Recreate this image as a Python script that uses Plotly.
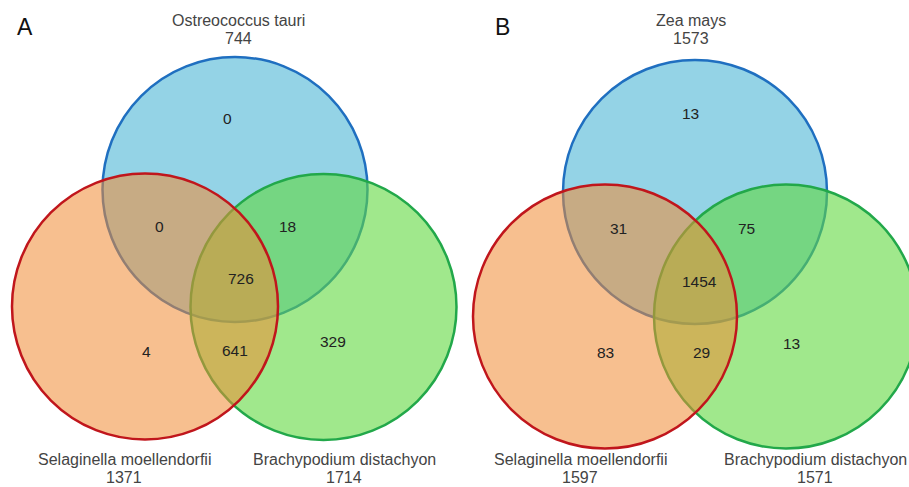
import plotly.graph_objects as go

# ---------------- data ----------------
panel_letters = ["A", "B"]

sets_A = ["Ostreococcus tauri", "Selaginella moellendorfii", "Brachypodium distachyon"]
totals_A = [744, 1371, 1714]
# regions: top only, left only, right only, top&left, top&right, left&right, all three
regions_A = [0, 4, 329, 0, 18, 641, 726]

sets_B = ["Zea mays", "Selaginella moellendorfii", "Brachypodium distachyon"]
totals_B = [1573, 1597, 1571]
regions_B = [13, 83, 13, 31, 75, 29, 1454]

# ---------------- layout geometry (pixels) ----------------
W, H = 909, 487
FONT = "Liberation Sans, Arial, sans-serif"

panels = [
    dict(letter=(25, 27),
         circles=[(235, 189.5, 132.5), (145, 306.5, 133), (323.5, 307, 133)],
         top_label=(238, 20, 38), left_label=(124, 459, 477), right_label=(344, 459, 477),
         region_pos=[(227, 118), (146, 351), (333, 341), (159, 226), (287, 226), (235, 350), (241, 278)]),
    dict(letter=(502, 27),
         circles=[(695, 192, 132), (605, 316.5, 132), (786, 316.5, 132)],
         top_label=(691, 20, 38), left_label=(580, 459, 477), right_label=(815, 459, 477),
         region_pos=[(690, 113), (605, 352), (791, 343), (618, 228), (746, 228), (701, 352), (699, 281)]),
]

# style per circle: top (blue), left (red), right (green)
fills = ["rgba(77,182,213,0.6)", "rgba(240,138,51,0.55)", "rgba(97,217,63,0.6)"]
lines = ["#1f6fc0", "#c0161c", "#22a84a"]
draw_order = [0, 2, 1]  # blue, green, red

fig = go.Figure()
fig.add_trace(go.Scatter(x=[0, W], y=[0, H], mode="markers",
                         marker=dict(opacity=0), hoverinfo="skip", showlegend=False))

data = [(sets_A, totals_A, regions_A), (sets_B, totals_B, regions_B)]

for p, (names, totals, regions), letter in zip(panels, data, panel_letters):
    for i in draw_order:
        cx, cy, r = p["circles"][i]
        fig.add_shape(type="circle", xref="x", yref="y",
                      x0=cx - r, x1=cx + r, y0=cy - r, y1=cy + r,
                      fillcolor=fills[i], line=dict(color=lines[i], width=2.5))
    fig.add_annotation(x=p["letter"][0], y=p["letter"][1], text=letter, showarrow=False,
                       font=dict(family=FONT, size=23, color="#111"),
                       xanchor="center", yanchor="middle")
    for key, name, tot in zip(["top_label", "left_label", "right_label"], names, totals):
        x, y1, y2 = p[key]
        fig.add_annotation(x=x, y=y1, text=name, showarrow=False,
                           font=dict(family=FONT, size=16, color="#444"),
                           xanchor="center", yanchor="middle")
        fig.add_annotation(x=x, y=y2, text=str(tot), showarrow=False,
                           font=dict(family=FONT, size=16, color="#444"),
                           xanchor="center", yanchor="middle")
    for (x, y), v in zip(p["region_pos"], regions):
        fig.add_annotation(x=x, y=y, text=str(v), showarrow=False,
                           font=dict(family=FONT, size=15.5, color="#222"),
                           xanchor="center", yanchor="middle")

fig.update_layout(width=W, height=H, margin=dict(l=0, r=0, t=0, b=0),
                  paper_bgcolor="white", plot_bgcolor="white", showlegend=False,
                  xaxis=dict(range=[0, W], visible=False, fixedrange=True),
                  yaxis=dict(range=[H, 0], visible=False, fixedrange=True))

fig.write_html("out.html", config=dict(displayModeBar=False),
               post_script="document.body.style.margin='0';document.body.style.overflow='hidden';")
